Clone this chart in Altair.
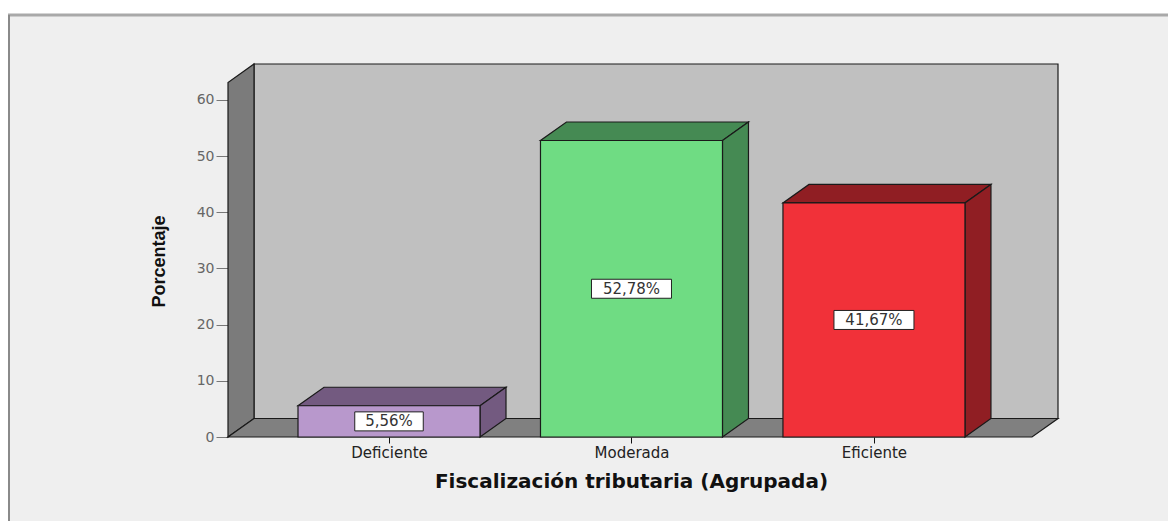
import json
import altair as alt
import pandas as pd

# ---------------- data ----------------
categorias = ["Deficiente", "Moderada", "Eficiente"]
porcentajes = [5.56, 52.78, 41.67]
etiquetas = ["5,56%", "52,78%", "41,67%"]
color_frente = ["#b898cc", "#6fdc83", "#f13139"]
color_sombra = ["#735a80", "#458a53", "#901e23"]
ticks_y = [0, 10, 20, 30, 40, 50, 60]
titulo_x = "Fiscalización tributaria (Agrupada)"
titulo_y = "Porcentaje"

# ---------------- geometry ----------------
W, H = 830, 373
X_MIN, X_MAX = -0.664, 2.759
Y_MAX = 66.4
PX_X = W / (X_MAX - X_MIN)
PX_Y = H / Y_MAX
DX = 26 / PX_X          # depth offset (x)
DY = 18.5 / PX_Y        # depth offset (y)
HW = 91 / PX_X          # half bar width

# walls (side + floor) as polygons drawn with area marks
poly = []
poly += [dict(id="lado", x=X_MIN, y=0, y2=Y_MAX - DY, fill="#7b7b7b"),
         dict(id="lado", x=X_MIN + DX, y=DY, y2=Y_MAX, fill="#7b7b7b")]
poly += [dict(id="piso", x=X_MIN, y=0, y2=0, fill="#808080"),
         dict(id="piso", x=X_MIN + DX, y=0, y2=DY, fill="#808080"),
         dict(id="piso", x=X_MAX - DX, y=0, y2=DY, fill="#808080"),
         dict(id="piso", x=X_MAX, y=DY, y2=DY, fill="#808080")]
walls = pd.DataFrame(poly)

back = pd.DataFrame([dict(x=X_MIN + DX, x2=X_MAX, y=DY, y2=Y_MAX)])

faces = []
fronts = []
boxes = []
for i, (c, v, lab, cf, cs) in enumerate(zip(categorias, porcentajes, etiquetas,
                                             color_frente, color_sombra)):
    tid = f"top{i}"
    faces += [dict(id=tid, x=i - HW, y=v, y2=v, fill=cs),
              dict(id=tid, x=i - HW + DX, y=v, y2=v + DY, fill=cs),
              dict(id=tid, x=i + HW, y=v, y2=v + DY, fill=cs),
              dict(id=tid, x=i + HW + DX, y=v + DY, y2=v + DY, fill=cs)]
    sid = f"side{i}"
    faces += [dict(id=sid, x=i + HW, y=0, y2=v, fill=cs),
              dict(id=sid, x=i + HW + DX, y=DY, y2=v + DY, fill=cs)]
    fronts.append(dict(cat=c, x=i - HW, x2=i + HW, y=0, y2=v, fill=cf))
    bw = (len(lab) * 11.5 + 11) / 2 / PX_X
    bh = 9.5 / PX_Y
    boxes.append(dict(x=i - bw, x2=i + bw, y=v / 2 - bh, y2=v / 2 + bh,
                      xc=i, yc=v / 2, label=lab))
faces = pd.DataFrame(faces)
fronts = pd.DataFrame(fronts)
boxes = pd.DataFrame(boxes)

# ---------------- scales / axes ----------------
xs = alt.Scale(domain=[X_MIN, X_MAX], nice=False, zero=False)
ys = alt.Scale(domain=[0, Y_MAX], nice=False, zero=False)

x_axis = alt.Axis(values=[0, 1, 2],
                  labelExpr=f"{json.dumps(categorias)}[datum.value]",
                  domain=False, grid=False, ticks=True, tickColor="#111",
                  tickSize=6, labelColor="#222", labelFont="DejaVu Sans",
                  labelFontSize=15, labelPadding=2,
                  title=titulo_x, titleFont="DejaVu Sans", titleFontSize=20,
                  titleFontWeight="bold", titleColor="#111",
                  titleX=403, titleY=44, titleBaseline="middle",
                  titleAlign="center")
y_axis = alt.Axis(values=ticks_y, domain=False, grid=False, ticks=True,
                  tickColor="#777", tickSize=12, labelColor="#666",
                  labelFont="DejaVu Sans", labelFontSize=14, labelPadding=2,
                  title=titulo_y, titleFont="Liberation Sans Narrow, Liberation Sans",
                  titleFontSize=18, titleFontWeight="bold", titleColor="#111",
                  titleAngle=270, titleX=-69, titleY=197,
                  titleAlign="center", titleBaseline="middle")


def X(f):
    return alt.X(f, type="quantitative", scale=xs, axis=x_axis)


def Y(f):
    return alt.Y(f, type="quantitative", scale=ys, axis=y_axis)


STROKE = "#1a1a1a"

back_layer = alt.Chart(back).mark_rect(fill="#c0c0c0", stroke=STROKE,
                                      strokeWidth=1.2).encode(
    x=X("x"), x2="x2", y=Y("y"), y2="y2")

wall_layer = alt.Chart(walls).mark_area(stroke=STROKE, strokeWidth=1.2,
                                        strokeJoin="miter").encode(
    x=X("x"), y=Y("y"), y2="y2", detail="id:N",
    fill=alt.Fill("fill:N", scale=None))

face_layer = alt.Chart(faces).mark_area(stroke=STROKE, strokeWidth=1.2,
                                        strokeJoin="miter").encode(
    x=X("x"), y=Y("y"), y2="y2", detail="id:N",
    fill=alt.Fill("fill:N", scale=None))

front_layer = alt.Chart(fronts).mark_rect(stroke=STROKE, strokeWidth=1.2).encode(
    x=X("x"), x2="x2", y=Y("y"), y2="y2",
    fill=alt.Fill("fill:N", scale=None))

box_layer = alt.Chart(boxes).mark_rect(fill="white", stroke="#222",
                                       strokeWidth=1).encode(
    x=X("x"), x2="x2", y=Y("y"), y2="y2")

text_layer = alt.Chart(boxes).mark_text(font="DejaVu Sans", fontSize=15,
                                        color="#333", align="center",
                                        baseline="middle").encode(
    x=X("xc"), y=Y("yc"), text="label:N")

deco = pd.DataFrame([{"k": 1}])
top_white = alt.Chart(deco).mark_rect(fill="white").encode(
    x=alt.value(-220), x2=alt.value(940), y=alt.value(-56), y2=alt.value(-50))
top_line = alt.Chart(deco).mark_rule(stroke="#a9a9a9", strokeWidth=3).encode(
    x=alt.value(-220), x2=alt.value(940), y=alt.value(-49))
left_line = alt.Chart(deco).mark_rule(stroke="#8a8a8a", strokeWidth=2).encode(
    x=alt.value(-219), y=alt.value(-49), y2=alt.value(460))

chart = alt.layer(back_layer, wall_layer, face_layer, front_layer, box_layer,
                  text_layer, top_white, top_line, left_line).properties(
    width=W, height=H,
    padding={"left": 220, "top": 56, "right": 110, "bottom": 84},
    autosize=alt.AutoSizeParams(type="none"),
    background="#efefef",
).configure_view(stroke=None)

chart.save("out.html", embed_options={"renderer": "svg", "actions": False})
